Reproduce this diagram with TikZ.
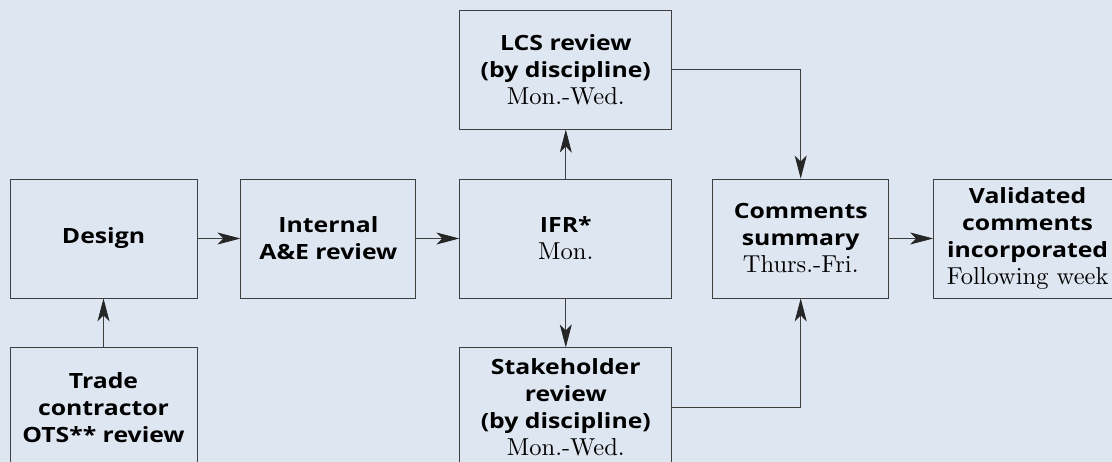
\documentclass[tikz,border=0pt]{standalone}
\usepackage{fontspec}
\newfontfamily\headfont{Open Sans}[FakeStretch=1.18]
\newfontfamily\dayfont{lmroman10-regular}[Extension=.otf]
\usepackage{tikz}
\usetikzlibrary{positioning, arrows.meta}
\definecolor{panel}{RGB}{222,230,241}
\definecolor{rule}{RGB}{62,62,62}
\newcommand{\hd}{\headfont\bfseries\fontsize{21}{27}\selectfont}
\newcommand{\dy}{\dayfont\fontsize{24.5}{27}\selectfont}
\tikzset{
>={Stealth[length=23pt, width=12pt, inset=6pt, color=black!85]}, % long narrow arrow heads
node distance=49pt and 43pt, % gap between the boxes. Change if necessary.
box/.style={draw=rule, line width=0.9pt, fill=panel, align=center,
  font=\fontsize{21}{27}\selectfont, % sets the line spacing of the box text
  minimum height=119pt, inner sep=2pt}, % every step of the process
flow/.style={->, draw=rule, line width=0.9pt}, % the connectors
}

\begin{document}
\begin{tikzpicture}[x=1pt, y=1pt]
        \useasboundingbox (0,0) rectangle (1112,-462);
        \clip (0,0) rectangle (1112,-462);
        \fill[panel] (0,0) rectangle (1112,-462);

        \node[box, minimum width=187pt] (design) at (103.5,-238.5) {\hd Design};
        \node[box, minimum width=175pt, right=of design] (internal) {\hd Internal\\\hd A\&E review};
        \node[box, minimum width=212pt, right=of internal] (ifr) {\hd IFR*\\\dy Mon.};
        \node[box, minimum width=212pt, above=of ifr] (lcs) {\hd LCS review\\\hd (by discipline)\\\dy Mon.-Wed.};
        \node[box, minimum width=212pt, below=of ifr] (stake) {\hd Stakeholder\\\hd review\\\hd (by discipline)\\\dy Mon.-Wed.};
        \node[box, minimum width=176pt, right=40pt of ifr] (comments) {\hd Comments\\\hd summary\\\dy Thurs.-Fri.};
        \node[box, minimum width=188pt, right=44pt of comments] (valid) {\hd Validated\\\hd comments\\\hd incorporated\\\dy Following week};
        \node[box, minimum width=187pt, below=of design] (trade) {\hd Trade\\\hd contractor\\\hd OTS** review};

        \draw[flow] (design) -- (internal);
        \draw[flow] (internal) -- (ifr);
        \draw[flow] (ifr) -- (lcs);
        \draw[flow] (ifr) -- (stake);
        \draw[flow] (trade) -- (design);
        \draw[flow] (lcs.east) -| (comments.north);
        \draw[flow] (stake.east) -| (comments.south);
        \draw[flow] (comments) -- (valid);
      \end{tikzpicture}
\end{document}
